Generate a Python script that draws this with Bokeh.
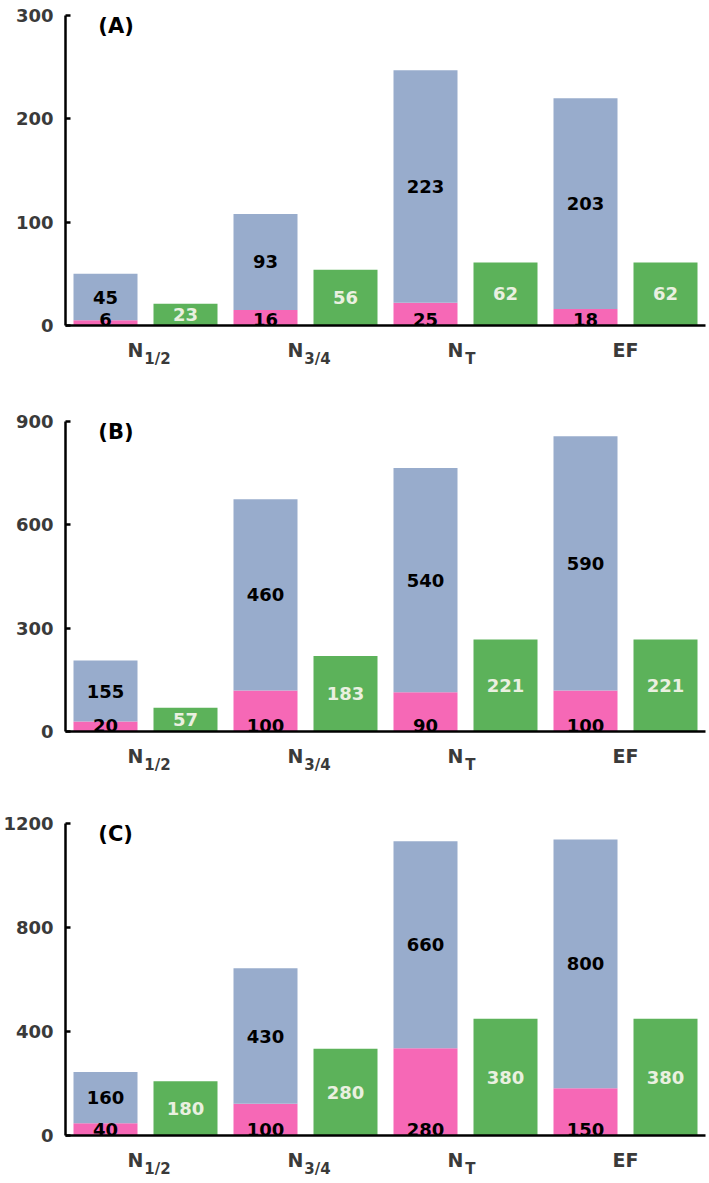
from bokeh.plotting import figure
from bokeh.layouts import column
from bokeh.models import (Label, FixedTicker, Range1d, LinearAxis,
                          CustomJSTickFormatter)
from bokeh.core.properties import value
from bokeh.embed import file_html
from bokeh.resources import INLINE

# ---------------- data ----------------
cat_main = ["N", "N", "N", "EF"]
cat_sub = ["1/2", "3/4", "T", ""]
panel_tags = ["(A)", "(B)", "(C)"]
y_max = [300, 900, 1200]
y_ticks_A = [0, 100, 200, 300]
y_ticks_B = [0, 300, 600, 900]
y_ticks_C = [0, 400, 800, 1200]

# bar heights (axis units)
pink_A = [5, 15, 22, 16]
total_A = [50, 108, 247, 220]
green_A = [21, 54, 61, 61]
pink_B = [29, 119, 114, 119]
total_B = [206, 674, 765, 857]
green_B = [69, 219, 267, 267]
pink_C = [47, 122, 336, 182]
total_C = [244, 643, 1132, 1138]
green_C = [209, 334, 449, 449]

# printed numbers
pink_lab_A = ["6", "16", "25", "18"]
blue_lab_A = ["45", "93", "223", "203"]
green_lab_A = ["23", "56", "62", "62"]
pink_lab_B = ["20", "100", "90", "100"]
blue_lab_B = ["155", "460", "540", "590"]
green_lab_B = ["57", "183", "221", "221"]
pink_lab_C = ["40", "100", "280", "150"]
blue_lab_C = ["160", "430", "660", "800"]
green_lab_C = ["180", "280", "380", "380"]

# ---------------- style ----------------
FONT = "DejaVu Sans"
BLUE = "#98accc"
PINK = "#f668b6"
GREEN = "#5cb25a"
GREEN_TXT = "#eaf0e0"
AXIS_TXT = "#3a3a3a"


def make_panel(idx, ticks, pink, total, green, pl, bl, gl, height, top, bottom):
    p = figure(width=709, height=height, x_range=Range1d(0, 8),
               y_range=Range1d(0, y_max[idx]), output_backend="svg",
               toolbar_location=None, min_border_left=64, min_border_right=4,
               min_border_top=top, min_border_bottom=bottom)
    p.grid.visible = False
    p.outline_line_color = None

    ya = p.yaxis[0]
    ya.ticker = FixedTicker(ticks=ticks)
    ya.minor_tick_line_color = None
    ya.major_tick_in = 5
    ya.major_tick_out = 0
    ya.major_tick_line_width = 2.5
    ya.axis_line_width = 2.5
    ya.major_label_text_font = FONT
    ya.major_label_text_font_style = "bold"
    ya.major_label_text_font_size = "18px"
    ya.major_label_text_color = AXIS_TXT
    ya.major_label_standoff = 12

    n = len(total)
    # category label positions (main text slightly left, subscript right)
    main_x = [2 * i + 1 + (-0.125 if cat_sub[i] else 0.0) for i in range(n)]
    sub_x = [2 * i + 1 + (0.06 if len(cat_sub[i]) == 1 else 0.15)
             for i in range(n) if cat_sub[i]]
    subs = [s for s in cat_sub if s]

    xa = p.xaxis[0]
    xa.ticker = FixedTicker(ticks=main_x)
    xa.formatter = CustomJSTickFormatter(args=dict(labs=cat_main),
                                         code="return labs[index];")
    xa.major_tick_line_color = None
    xa.minor_tick_line_color = None
    xa.major_tick_in = 0
    xa.major_tick_out = 0
    xa.axis_line_width = 2.5
    xa.major_label_standoff = 13
    xa.major_label_text_font = FONT
    xa.major_label_text_font_style = "bold"
    xa.major_label_text_font_size = "19px"
    xa.major_label_text_color = AXIS_TXT

    sa = LinearAxis(ticker=FixedTicker(ticks=sub_x),
                    formatter=CustomJSTickFormatter(args=dict(labs=subs),
                                                    code="return labs[index];"))
    sa.axis_line_color = None
    sa.major_tick_line_color = None
    sa.minor_tick_line_color = None
    sa.major_tick_in = 0
    sa.major_tick_out = 0
    sa.major_label_standoff = -14
    sa.major_label_text_font = FONT
    sa.major_label_text_font_style = "bold"
    sa.major_label_text_font_size = "15px"
    sa.major_label_text_color = AXIS_TXT
    p.add_layout(sa, "below")

    xb = [2 * i + 0.5 for i in range(n)]
    xg = [2 * i + 1.5 for i in range(n)]
    p.vbar(x=xb, bottom=0, top=pink, width=0.8, fill_color=PINK, line_color=None)
    p.vbar(x=xb, bottom=pink, top=total, width=0.8, fill_color=BLUE, line_color=None)
    p.vbar(x=xg, bottom=0, top=green, width=0.8, fill_color=GREEN, line_color=None)

    common = dict(text_font=value(FONT), text_font_style="bold",
                  text_font_size="18px", text_align="center")
    ymid_blue = [(a + b) / 2 for a, b in zip(pink, total)]
    ymid_green = [g / 2 for g in green]
    p.text(x=xb, y=ymid_blue, text=bl, text_baseline="middle",
           text_color="black", **common)
    p.text(x=xg, y=ymid_green, text=gl, text_baseline="middle",
           text_color=GREEN_TXT, **common)
    p.text(x=xb, y=[0] * n, text=pl, text_baseline="bottom",
           text_color="black", **common)

    p.add_layout(Label(x=0.41, y=y_max[idx], text=panel_tags[idx],
                       text_baseline="top", y_offset=2,
                       text_font=FONT, text_font_style="bold",
                       text_font_size="21px", text_color="black"))
    return p


pA = make_panel(0, y_ticks_A, pink_A, total_A, green_A, pink_lab_A, blue_lab_A,
                green_lab_A, 409, 15, 84)
pB = make_panel(1, y_ticks_B, pink_B, total_B, green_B, pink_lab_B, blue_lab_B,
                green_lab_B, 402, 12, 80)
pC = make_panel(2, y_ticks_C, pink_C, total_C, green_C, pink_lab_C, blue_lab_C,
                green_lab_C, 371, 12, 47)

layout = column(pA, pB, pC, spacing=0)
open("out.html", "w").write(file_html(layout, INLINE))
